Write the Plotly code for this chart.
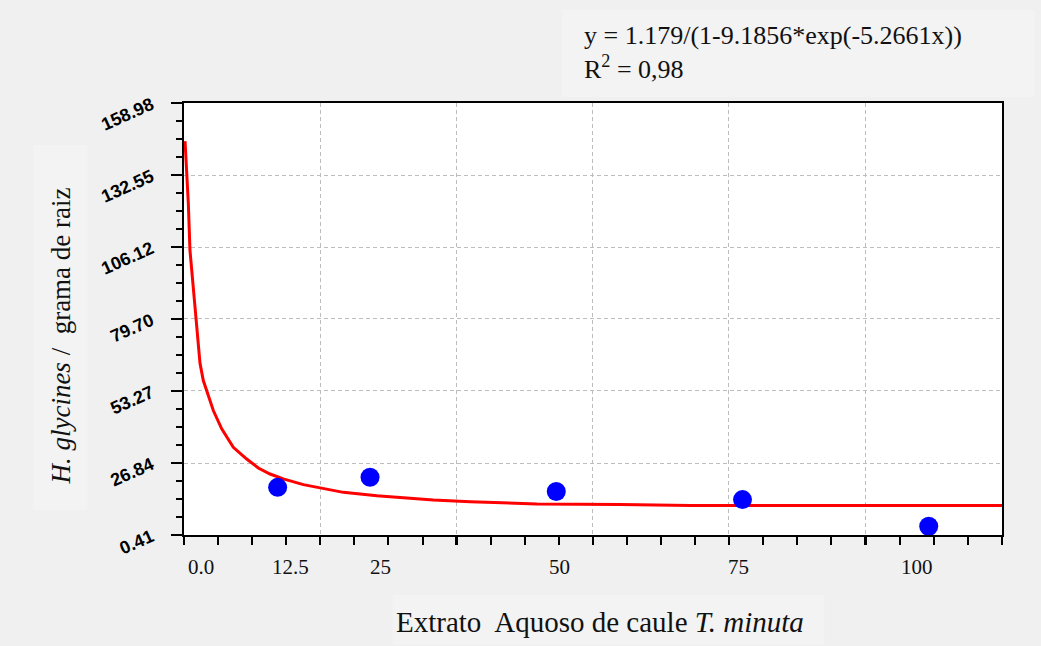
import plotly.graph_objects as go

# Observed data points
obs_x = [10.7, 23.6, 49.6, 75.6, 101.6]
obs_y = [17.9, 21.6, 16.4, 13.4, 3.6]

# Fitted curve
fit_x = [-2.23, -1.77, -1.54, -0.14, 0.32, 1.72, 2.89, 4.51, 6.38, 8.00, 9.64,
         11.49, 14.29, 16.62, 19.87, 24.54, 28.26, 32.44, 37.57, 46.89, 58.5,
         68.3, 112.0]
fit_y = [145.0, 122.1, 104.9, 63.4, 57.1, 46.1, 39.4, 32.6, 28.3, 25.0, 22.8,
         21.0, 18.9, 17.7, 16.06, 14.85, 14.0, 13.3, 12.65, 11.8, 11.6,
         11.2, 11.2]

# Axis tick values / labels
y_tickvals = [0.41, 26.84, 53.27, 79.70, 106.12, 132.55, 158.98]
y_ticktext = ["0.41", "26.84", "53.27", "79.70", "106.12", "132.55", "158.98"]
x_labelvals = [0, 12.5, 25, 50, 75, 100]
x_labeltext = ["0.0", "12.5", "25", "50", "75", "100"]

x_range = [-2.374, 111.83]
y_range = [0.41, 158.98]

SERIF = "Liberation Serif"

fig = go.Figure()
fig.add_trace(go.Scatter(x=fit_x, y=fit_y, mode="lines",
                         line=dict(color="#ff0000", width=3), showlegend=False))
fig.add_trace(go.Scatter(x=obs_x, y=obs_y, mode="markers",
                         marker=dict(color="#0000ff", size=19), showlegend=False))

grid = dict(showgrid=True, gridcolor="#bdbdbd", gridwidth=1, griddash="4px,3px")

fig.update_layout(
    width=1041, height=646,
    margin=dict(l=184, r=39, t=103, b=111),
    paper_bgcolor="#f0f0f0",
    plot_bgcolor="#ffffff",
    xaxis=dict(range=x_range, tickmode="linear", tick0=16.62, dtick=19.03,
               showticklabels=False, ticks="outside", ticklen=8, tickwidth=2,
               tickcolor="black", showline=True, linecolor="black", linewidth=2,
               mirror=True, zeroline=False,
               minor=dict(tick0=-2.374, dtick=4.7575, ticks="outside", ticklen=8,
                          tickwidth=2, tickcolor="black", showgrid=False),
               **grid),
    yaxis=dict(range=y_range, tickmode="array", tickvals=y_tickvals,
               ticktext=y_ticktext, tickangle=-24, ticklabelstandoff=16,
               tickfont=dict(family="Liberation Sans", size=18, color="black",
                             weight="bold"),
               ticks="outside", ticklen=11, tickwidth=2, tickcolor="black",
               showline=True, linecolor="black", linewidth=2, mirror=True,
               zeroline=False,
               minor=dict(tick0=0.41, dtick=6.6075, ticks="outside", ticklen=6,
                          tickwidth=2, tickcolor="black", showgrid=False),
               **grid),
)

# light boxes behind texts
fig.add_shape(type="rect", xref="paper", yref="paper", x0=0.462, x1=1.040,
              y0=1.014, y1=1.215, fillcolor="#f3f3f3", line=dict(width=0), layer="below")
fig.add_shape(type="rect", xref="paper", yref="paper", x0=-0.184, x1=-0.118,
              y0=0.058, y1=0.903, fillcolor="#f3f3f3", line=dict(width=0), layer="below")
fig.add_shape(type="rect", xref="paper", yref="paper", x0=0.255, x1=0.783,
              y0=-0.254, y1=-0.139, fillcolor="#f3f3f3", line=dict(width=0), layer="below")

for v, t in zip(x_labelvals, x_labeltext):
    fig.add_annotation(x=v, y=-0.074, xref="x", yref="paper", text=t,
                       showarrow=False, xanchor="center", yanchor="middle",
                       font=dict(family=SERIF, size=21, color="#111"))

fig.add_annotation(x=0.4866, y=1.118, xref="paper", yref="paper",
                   text="y = 1.179/(1-9.1856*exp(-5.2661x))<br>R<sup>2</sup> = 0,98",
                   showarrow=False, xanchor="left", yanchor="middle", align="left",
                   font=dict(family=SERIF, size=26, color="#111"))

fig.add_annotation(x=-0.150, y=0.46, xref="paper", yref="paper",
                   text="<i>H. glycines</i> /  grama de raiz", textangle=-90,
                   showarrow=False, xanchor="center", yanchor="middle",
                   font=dict(family=SERIF, size=27, color="#111"))

fig.add_annotation(x=0.5086, y=-0.201, xref="paper", yref="paper",
                   text="Extrato  Aquoso de caule <i>T. minuta</i>",
                   showarrow=False, xanchor="center", yanchor="middle",
                   font=dict(family=SERIF, size=29, color="#111"))

fig.write_html("out.html")
